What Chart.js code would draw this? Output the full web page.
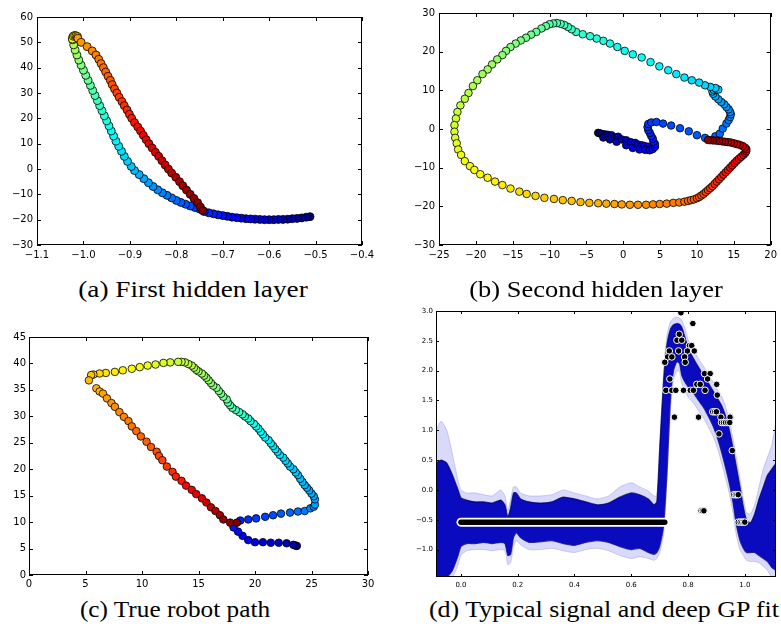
<!DOCTYPE html>
<html>
<head>
<meta charset="utf-8">
<script src="https://cdn.jsdelivr.net/npm/chart.js@4.4.1/dist/chart.umd.min.js"></script>
<style>
body{margin:0;background:#fff;width:781px;height:631px;position:relative;overflow:hidden}
canvas{position:absolute}
.cap{position:absolute;font-family:"Liberation Serif",serif;font-size:23px;line-height:23px;white-space:nowrap;color:#000;
     transform-origin:center}
</style>
</head>
<body>
<canvas id="ca" width="390" height="265" style="left:0;top:0"></canvas>
<canvas id="cb" width="391" height="265" style="left:390px;top:0"></canvas>
<canvas id="cc" width="390" height="275" style="left:0;top:320px"></canvas>
<canvas id="cd" width="391" height="295" style="left:390px;top:300px"></canvas>
<div class="cap" data-w="230" style="left:193px;top:278px">(a) First hidden layer</div>
<div class="cap" data-w="253" style="left:596px;top:278px">(b) Second hidden layer</div>
<div class="cap" data-w="190" style="left:175px;top:598px">(c) True robot path</div>
<div class="cap" data-w="350" style="left:604px;top:598px">(d) Typical signal and deep GP fit</div>
<script>
// (a) first hidden layer, points in time order
const aX = [-0.512,-0.52,-0.53,-0.54,-0.55,-0.56,-0.57,-0.58,-0.59,-0.60,-0.61,-0.62,-0.63,-0.64,-0.65,-0.66,-0.67,-0.68,-0.69,-0.70,-0.71,-0.72,-0.73,-0.74,
  -0.75,-0.76,-0.77,-0.78,-0.79,-0.80,-0.81,-0.82,-0.83,-0.84,-0.85,-0.86,-0.87,-0.88,-0.89,-0.897,-0.905,-0.912,-0.918,-0.924,-0.93,-0.935,-0.94,-0.945,-0.95,-0.955,-0.96,-0.965,-0.97,-0.975,-0.98,-0.985,-0.99,-0.995,-1.0,-1.005,-1.01,-1.014,-1.018,-1.021,-1.023,-1.02,
  -1.023,-1.024,-1.022,-1.019,-1.016,-1.013,
  -1.012,-1.005,-0.992,-0.981,-0.973,-0.967,-0.962,-0.957,-0.952,-0.947,-0.942,-0.938,-0.933,-0.928,-0.923,-0.917,-0.912,-0.906,-0.901,-0.896,-0.890,-0.883,-0.877,-0.871,-0.865,-0.859,-0.852,-0.845,-0.838,-0.831,-0.824,-0.817,-0.810,-0.801,-0.793,-0.786,-0.778,-0.770,-0.762,-0.754,-0.748,-0.743];
const aY = [-18.8,-19.0,-19.3,-19.5,-19.6,-19.8,-19.9,-19.9,-20.0,-20.0,-20.0,-19.9,-19.8,-19.7,-19.6,-19.4,-19.2,-19.0,-18.7,-18.4,-18.1,-17.7,-17.3,-16.8,
  -15.8,-15.2,-14.6,-13.9,-13.2,-12.4,-11.4,-10.4,-9.4,-8.2,-6.9,-5.4,-3.8,-2.2,-0.6,1,3,5,7,9,11,13,15,17,19,21,23,25,27,29,31,33,35,37,39,41,43,45,47,49,51,52.5,
  52.0,51.3,52.4,52.7,52.6,52.3,
  51.6,50.0,48.3,46.6,45.0,43.3,41.6,40.0,38.3,36.6,35.0,33.3,31.6,30.0,28.3,26.6,25.0,23.3,21.6,20.0,18.3,16.6,15.0,13.3,11.6,10.0,8.3,6.6,5.0,3.3,1.6,0.0,-1.6,-3.3,-5.0,-6.6,-8.3,-10.0,-11.6,-13.3,-15.0,-16.4];
const aXTicks = [-1.1,-1.0,-0.9,-0.8,-0.7,-0.6,-0.5,-0.4];
const aYTicks = [-30,-20,-10,0,10,20,30,40,50,60];

// (b) second hidden layer
const bX = [-3.4,-3.2,-2.9,-2.5,-2.7,-2.1,-1.6,-1.8,-1.1,-0.7,-0.9,-0.2,0.4,0.4,1.0,1.6,1.3,2.0,2.5,2.2,2.9,3.4,3.0,3.6,4.0,4.3,4.3,4.1,4.0,3.8,3.6,3.4,3.3,3.4,3.8,4.5,5.4,6.5,7.7,8.9,10.0,11.1,
  12.5,13.1,13.5,14.0,14.3,14.5,14.6,14.5,14.3,14.0,13.7,13.3,12.9,12.5,12.2,12.1,12.3,12.7,12.9,
  12.5,11.8,11.1,10.3,9.3,8.3,7.2,6.1,4.9,3.7,2.5,1.3,0.2,-0.8,-1.8,-2.7,-3.6,-4.5,-5.5,-6.4,-7.0,-7.5,-8.0,-8.5,-9.0,-9.5,-10.0,-10.5,-11.1,-11.8,-12.5,-13.2,-13.9,-14.6,-15.3,-15.9,-16.4,-17.1,-17.8,-18.4,-19.1,-19.8,-20.4,-21.0,-21.5,-22.1,-22.5,-22.7,-22.9,-22.9,-22.8,-22.6,-22.4,-22.0,-21.5,-20.8,-20.2,-19.4,-18.4,-17.4,-16.4,-15.3,-14.1,-13.1,-11.9,-10.7,-9.4,-8.2,-7.0,-5.8,-4.6,-3.4,-2.3,-1.2,-0.2,0.9,2.0,3.1,4.05,4.95,5.9,6.8,7.6,
  8.3,8.8,9.2,9.6,10.0,10.3,10.6,10.9,11.2,11.5,11.8,12.1,12.4,12.7,13.0,13.3,13.6,13.9,14.2,14.5,14.8,15.1,15.4,15.7,16.0,16.3,16.55,16.7,16.7,16.5,16.2,15.8,15.4,15.0,14.6,14.2,13.8,13.4,13.0,12.6,12.2,11.8,11.5];
const bY = [-1.0,-1.1,-1.3,-1.4,-2.2,-1.5,-1.6,-2.7,-2.2,-2.0,-3.3,-2.7,-2.9,-4.2,-3.4,-3.6,-4.9,-4.0,-4.2,-5.3,-4.4,-4.6,-5.4,-5.5,-5.2,-4.6,-3.9,-3.3,-2.5,-1.8,-1.0,-0.3,0.5,1.3,1.7,1.8,1.4,0.9,0.2,-0.6,-1.6,-2.3,
  -1.9,-1.2,0.1,1.4,2.3,3.1,3.8,4.4,5.1,5.7,6.4,7.0,7.7,8.4,9.1,9.7,10.1,10.2,10.2,
  10.6,10.9,11.3,12.0,12.6,13.3,14.2,15.2,16.2,17.3,18.5,19.3,20.2,21.2,22.1,22.8,23.4,24.0,24.5,25.1,25.8,26.4,26.9,27.2,27.4,27.3,27.1,26.6,26.0,25.1,24.4,23.6,22.9,22.1,21.2,20.2,19.1,18.0,16.7,15.4,14.2,12.6,11.1,9.3,7.8,6.1,4.4,2.7,1.0,-0.7,-2.3,-3.7,-5.3,-6.7,-8.3,-9.6,-10.6,-11.7,-12.6,-13.6,-14.5,-15.4,-16.2,-16.8,-17.3,-17.8,-18.1,-18.4,-18.6,-18.9,-19.1,-19.2,-19.3,-19.4,-19.5,-19.6,-19.6,-19.6,-19.5,-19.4,-19.3,-19.1,-19.0,
  -18.8,-18.6,-18.4,-18.2,-17.9,-17.6,-17.2,-16.8,-16.3,-15.8,-15.3,-14.8,-14.2,-13.6,-13.0,-12.4,-11.8,-11.2,-10.6,-10.0,-9.4,-8.8,-8.2,-7.7,-7.2,-6.7,-6.2,-5.7,-5.2,-4.8,-4.4,-4.1,-3.9,-3.7,-3.5,-3.4,-3.3,-3.2,-3.1,-3.0,-2.95,-2.9,-2.85];
const bXTicks = [-25,-20,-15,-10,-5,0,5,10,15,20];
const bYTicks = [-30,-20,-10,0,10,20,30];

// (c) true robot path
const cX = [23.7,23.6,23.4,22.8,22.1,21.4,20.7,20.0,19.4,18.9,18.5,18.1,18.7,19.4,20.1,20.9,21.6,22.3,23.1,23.8,24.4,24.9,25.2,25.3,25.3,25.2,25.0,24.8,24.6,24.4,24.2,24.0,23.8,23.6,23.4,23.1,22.9,22.7,22.5,22.2,22.0,21.8,21.6,21.4,21.2,20.9,20.7,20.5,20.3,20.1,19.9,19.6,19.4,19.1,18.9,18.6,18.3,18.0,17.8,17.6,17.5,17.2,17.0,16.8,16.6,16.3,16.1,15.9,15.7,15.5,15.3,15.0,14.8,14.6,14.4,14.1,13.8,13.5,13.2,
  12.5,11.9,11.2,10.5,9.8,9.1,8.3,7.6,6.8,6.25,5.7,5.5,5.3,
  5.96,6.25,6.55,6.9,7.3,7.6,8.0,8.4,8.8,9.1,9.5,9.9,10.4,10.8,11.3,11.5,11.8,12.2,12.7,13.0,13.5,13.9,14.4,14.8,15.3,15.7,16.1,16.5,16.9,17.2,17.8,18.4];
const cY = [5.5,5.55,5.7,6.0,6.1,6.1,6.2,6.2,6.6,7.4,8.2,9.0,10.3,10.5,10.7,11.0,11.3,11.6,11.8,12.0,12.1,12.6,12.9,13.3,14.3,14.9,15.4,16.0,16.5,17.0,17.6,18.2,18.9,19.4,20.0,20.5,21.1,21.6,22.2,22.7,23.3,23.8,24.4,24.9,25.5,26.0,26.6,27.1,27.7,28.1,28.6,29.1,29.6,30.0,30.4,30.8,31.2,31.6,32.1,32.6,33.2,33.7,34.3,34.8,35.4,35.8,36.3,36.8,37.3,37.7,38.1,38.5,38.8,39.2,39.6,39.9,40.2,40.3,40.3,
  40.2,40.1,39.8,39.6,39.3,39.0,38.7,38.4,38.2,38.1,37.9,37.8,36.8,
  35.3,34.7,34.3,33.4,32.5,31.8,30.8,29.9,29.1,28.1,27.2,26.2,25.2,24.2,23.3,22.5,21.7,20.5,19.5,18.6,17.8,16.9,16.1,15.3,14.5,13.7,12.8,12.1,11.3,10.5,9.9,9.9];
const cXTicks = [0,5,10,15,20,25,30];
const cYTicks = [0,5,10,15,20,25,30,35,40,45];

// colour position (0..1 on the jet map) at some point indices, linear in between
const aColorKnots = [[0,0.0],[23,0.17],[65,0.56],[72,0.72],[113,1.0]];
const bColorKnots = [[0,0.0],[188,1.0]];
const cColorKnots = [[0,0.02],[23,0.28],[48,0.38],[62,0.49],[78,0.57],[91,0.69],[109,0.815],[123,1.0]];

// (d) signal samples (band edges) and deep GP fit observations
const dBandX = [-0.088,-0.07,-0.05,-0.03,-0.01,0.0,0.02,0.05,0.08,0.11,0.14,0.155,0.165,0.175,0.185,0.195,0.21,0.24,0.28,0.32,0.36,0.4,0.44,0.48,0.52,0.56,0.6,0.63,0.66,0.68,0.69,0.70,0.714,0.726,0.738,0.749,0.761,0.770,0.778,0.79,0.802,0.82,0.837,0.855,0.872,0.89,0.907,0.92,0.932,0.945,0.958,0.97,0.983,0.995,1.006,1.02,1.035,1.05,1.065,1.08,1.095,1.11];
const dCoreHi = [0.45,0.5,0.45,0.25,0.0,-0.13,-0.17,-0.2,-0.2,-0.22,-0.17,-0.25,-0.45,-0.3,-0.05,-0.05,-0.15,-0.2,-0.22,-0.2,-0.12,-0.15,-0.2,-0.25,-0.22,-0.12,-0.05,-0.08,-0.15,-0.25,-0.2,0.68,1.84,2.45,2.70,2.77,2.79,2.78,2.73,2.55,2.36,2.2,2.06,1.92,1.79,1.65,1.51,1.40,1.25,1.02,0.72,0.40,0.06,-0.28,-0.5,-0.55,-0.4,-0.15,0.05,0.25,0.35,0.45];
const dCoreLo = [-1.46,-1.46,-1.46,-1.35,-1.1,-0.95,-0.9,-0.9,-0.88,-0.9,-0.88,-0.9,-1.1,-1.08,-0.8,-0.72,-0.8,-0.88,-0.87,-0.85,-0.9,-0.93,-0.88,-0.85,-0.88,-0.95,-1.0,-0.98,-1.05,-1.08,-1.05,-0.95,-0.6,0.3,1.51,2.0,2.15,2.12,1.92,1.8,1.72,1.62,1.5,1.38,1.23,1.05,0.82,0.6,0.38,0.12,-0.2,-0.58,-0.85,-0.98,-1.05,-1.05,-1.05,-1.1,-1.15,-1.2,-1.3,-1.35];
const dHaloHi = [1.0,1.15,1.0,0.6,0.15,0.0,-0.05,-0.05,-0.08,-0.1,0.0,-0.1,-0.35,-0.15,0.05,0.05,-0.05,-0.1,-0.1,-0.08,0.0,-0.05,-0.1,-0.15,-0.1,0.05,0.12,0.05,-0.02,-0.1,-0.1,0.75,2.0,2.6,2.82,2.88,2.9,2.88,2.85,2.7,2.5,2.35,2.2,2.07,1.93,1.8,1.65,1.55,1.4,1.18,0.88,0.55,0.2,-0.15,-0.38,-0.4,-0.25,0.05,0.35,0.55,0.75,1.15];
const dHaloLo = [-1.46,-1.46,-1.46,-1.46,-1.25,-1.1,-1.02,-1.0,-1.0,-1.02,-1.0,-1.02,-1.25,-1.22,-0.95,-0.85,-0.92,-1.0,-1.0,-0.98,-1.02,-1.05,-1.0,-0.98,-1.02,-1.1,-1.15,-1.12,-1.15,-1.18,-1.15,-1.05,-0.75,0.15,1.3,1.85,2.0,1.98,1.78,1.65,1.55,1.45,1.33,1.2,1.05,0.88,0.65,0.42,0.2,-0.05,-0.38,-0.75,-1.0,-1.1,-1.18,-1.2,-1.2,-1.22,-1.28,-1.35,-1.46,-1.46];
const dFlatX = [0.0, 0.718];
const dFlatY = [-0.54, -0.54];
const dObsX = [0.775,0.817,0.769,0.761,0.778,0.805,0.813,0.734,0.767,0.798,0.822,0.728,0.743,0.788,0.718,0.790,0.736,0.858,0.878,0.869,0.831,0.843,0.901,0.722,0.743,0.757,0.784,0.808,0.819,0.860,0.903,0.752,0.837,0.887,0.894,0.900,0.916,0.948,0.918,0.925,0.932,0.940,0.947,0.909,0.956,0.961,0.967,0.972,0.977,0.846,0.851,0.856,0.977,0.984,0.990,0.996,1.0];
const dObsY = [2.97,2.79,2.61,2.51,2.51,2.42,2.42,2.33,2.33,2.33,2.33,2.23,2.23,2.23,2.14,2.14,1.86,1.95,1.95,1.86,1.77,1.77,1.77,1.67,1.67,1.67,1.67,1.67,1.67,1.67,1.59,1.22,1.22,1.31,1.31,1.31,1.22,1.22,1.13,1.13,1.13,1.13,1.13,0.94,0.66,-0.08,-0.08,-0.08,-0.08,-0.35,-0.35,-0.35,-0.54,-0.54,-0.54,-0.54,-0.54];
const dXTicks = [0.0,0.2,0.4,0.6,0.8,1.0];
const dYTicks = [-1.0,-0.5,0.0,0.5,1.0,1.5,2.0,2.5,3.0];

function pts(xs, ys){ return xs.map((x,i)=>({x:x, y:ys[i]})); }

function jet(t){
  const c = v => Math.max(0, Math.min(1, v));
  const r = c(1.5 - Math.abs(4*t - 3)), g = c(1.5 - Math.abs(4*t - 2)), b = c(1.5 - Math.abs(4*t - 1));
  return 'rgb(' + Math.round(r*255) + ',' + Math.round(g*255) + ',' + Math.round(b*255) + ')';
}

function knotT(i, knots){
  for (let k = 1; k < knots.length; k++){
    const [i0,t0] = knots[k-1], [i1,t1] = knots[k];
    if (i <= i1) return t0 + (t1 - t0) * (i - i0) / (i1 - i0);
  }
  return knots[knots.length-1][1];
}

function fmt(v, d){
  const s = Math.abs(v).toFixed(d);
  return (v < 0 ? '\u2212' : '') + s;
}

// matplotlib style box with inward ticks on all four sides
const frameTicks = {
  id: 'frameTicks',
  afterDatasetsDraw(chart, args, o){
    const {ctx, chartArea:a, scales} = chart;
    const len = o.len;
    ctx.save();
    ctx.strokeStyle = '#000';
    ctx.lineWidth = 1;
    ctx.beginPath();
    scales.x.ticks.forEach(t => {
      const px = Math.round(scales.x.getPixelForValue(t.value)) + 0.5;
      ctx.moveTo(px, a.bottom); ctx.lineTo(px, a.bottom - len);
      ctx.moveTo(px, a.top); ctx.lineTo(px, a.top + len);
    });
    scales.y.ticks.forEach(t => {
      const py = Math.round(scales.y.getPixelForValue(t.value)) + 0.5;
      ctx.moveTo(a.left, py); ctx.lineTo(a.left + len, py);
      ctx.moveTo(a.right, py); ctx.lineTo(a.right - len, py);
    });
    ctx.stroke();
    ctx.strokeRect(Math.round(a.left) + 0.5, Math.round(a.top) + 0.5, Math.round(a.width) - 1, Math.round(a.height) - 1);
    ctx.restore();
  }
};

function axes(xr, yr, xt, yt, fs, xd, yd, yW, xH, xPad, yPad){
  const tk = (dec, pad) => ({
    autoSkip:false, maxRotation:0, padding:pad, color:'#000',
    font:{family:'DejaVu Sans', size:fs},
    callback: v => fmt(v, dec)
  });
  return {
    x: {type:'linear', position:'bottom', min:xr[0], max:xr[1],
        afterBuildTicks: s => { s.ticks = xt.map(v => ({value:v})); },
        afterFit: s => { s.height = xH; },
        grid:{display:false, drawTicks:false}, border:{display:false},
        ticks: tk(xd, xPad)},
    y: {type:'linear', position:'left', min:yr[0], max:yr[1],
        afterBuildTicks: s => { s.ticks = yt.map(v => ({value:v})); },
        afterFit: s => { s.width = yW; },
        grid:{display:false, drawTicks:false}, border:{display:false},
        ticks: tk(yd, yPad)}
  };
}

function pathChart(id, xs, ys, knots, r, sc, pad){
  return new Chart(document.getElementById(id), {
    type: 'scatter',
    data: {datasets: [{
      data: pts(xs, ys),
      pointRadius: r,
      pointBorderWidth: 0.8,
      pointBorderColor: '#000',
      pointBackgroundColor: c => jet(knotT(c.dataIndex, knots))
    }]},
    options: {
      responsive:false, animation:false, devicePixelRatio:1,
      layout:{padding:pad},
      plugins:{legend:{display:false}, tooltip:{enabled:false}, frameTicks:{len:4}},
      scales: sc
    },
    plugins:[frameTicks]
  });
}

pathChart('ca', aX, aY, aColorKnots, 4,
  axes([-1.1,-0.4], [-30,60], aXTicks, aYTicks, 10, 1, 0, 37, 20, 4, 4),
  {left:0, top:17, right:28, bottom:0});
pathChart('cb', bX, bY, bColorKnots, 3.8,
  axes([-25,20], [-30,30], bXTicks, bYTicks, 10, 0, 0, 49, 20, 4, 4),
  {left:0, top:13, right:10, bottom:0});
pathChart('cc', cX, cY, cColorKnots, 3.8,
  axes([0,30], [0,45], cXTicks, cYTicks, 10, 0, 0, 29, 20, 3, 3),
  {left:0, top:17, right:22, bottom:0});

new Chart(document.getElementById('cd'), {
  type: 'scatter',
  data: {datasets: [
    {type:'line', data: pts(dBandX, dHaloHi), fill:'+1', backgroundColor:'rgba(120,120,235,0.28)',
     borderColor:'rgba(110,110,220,0.3)', borderWidth:1, pointRadius:0, tension:0.2, order:6},
    {type:'line', data: pts(dBandX, dHaloLo), fill:false,
     borderColor:'rgba(110,110,220,0.3)', borderWidth:1, pointRadius:0, tension:0.2, order:6},
    {type:'line', data: pts(dBandX, dCoreHi), fill:'+1', backgroundColor:'rgb(10,10,190)',
     borderColor:'rgba(0,0,90,0.7)', borderWidth:1.2, pointRadius:0, tension:0.2, order:4},
    {type:'line', data: pts(dBandX, dCoreLo), fill:false,
     borderColor:'rgba(0,0,90,0.7)', borderWidth:1.2, pointRadius:0, tension:0.2, order:4},
    {type:'line', data: pts(dFlatX, dFlatY), fill:false, borderColor:'#fff', borderWidth:9,
     borderCapStyle:'round', pointRadius:0, order:3},
    {type:'line', data: pts(dFlatX, dFlatY), fill:false, borderColor:'#000', borderWidth:5.5,
     borderCapStyle:'round', pointRadius:0, order:2},
    {data: pts(dObsX, dObsY), pointRadius:3.3, pointBackgroundColor:'#000',
     pointBorderColor:'#fff', pointBorderWidth:1, order:1}
  ]},
  options: {
    responsive:false, animation:false, devicePixelRatio:1,
    layout:{padding:{left:0, top:11, right:3, bottom:0}},
    plugins:{legend:{display:false}, tooltip:{enabled:false}, frameTicks:{len:3}},
    scales: axes([-0.088,1.11], [-1.46,3.0], dXTicks, dYTicks, 7, 1, 1, 46, 18, 4, 3)
  },
  plugins:[frameTicks]
});

// stretch each caption to the width it has in the figure
document.querySelectorAll('.cap').forEach(el => {
  const w = el.offsetWidth;
  el.style.transform = 'translateX(-50%) scaleX(' + (parseFloat(el.dataset.w) / w) + ')';
});
</script>
</body>
</html>
